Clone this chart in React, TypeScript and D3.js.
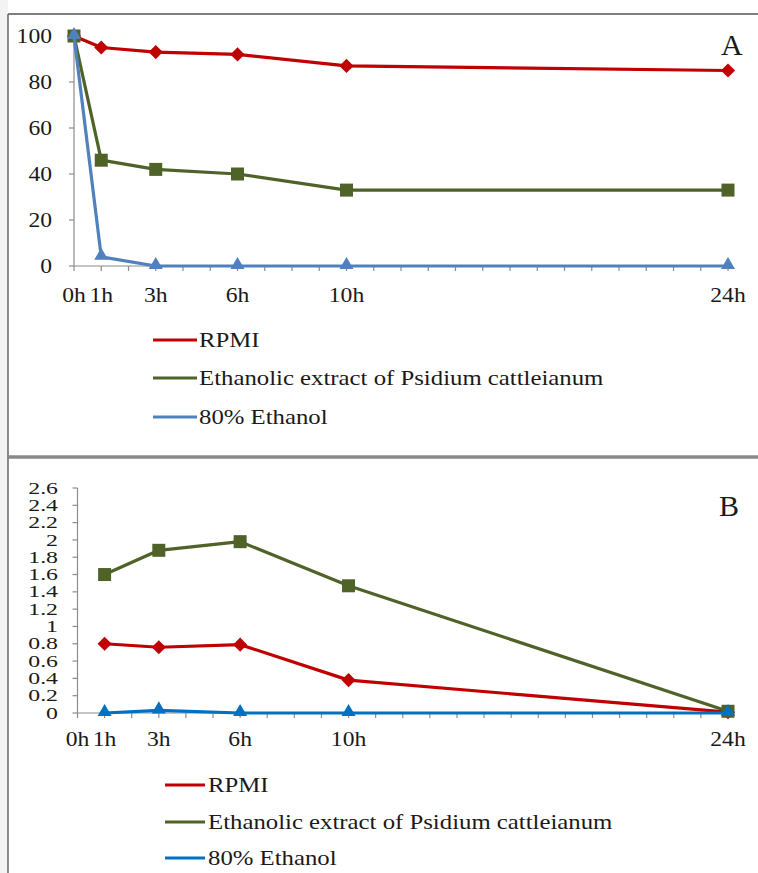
import React from "react";
import * as d3 from "d3";

// time points (hours) and tick labels
const hoursA = [0, 1, 3, 6, 10, 24];
const hoursB = [1, 3, 6, 10, 24];
const xTickHours = [0, 1, 3, 6, 10, 24];

// panel A values (%)
const rpmiA = [100, 95, 93, 92, 87, 85];
const extractA = [100, 46, 42, 40, 33, 33];
const ethanolA = [100, 4, 0, 0, 0, 0];

// panel B values
const rpmiB = [0.8, 0.76, 0.79, 0.38, 0.01];
const extractB = [1.6, 1.88, 1.98, 1.47, 0.02];
const ethanolB = [0, 0.03, 0, 0, 0];

const yTicksA = [0, 20, 40, 60, 80, 100];
const yTicksB = d3.range(0, 14).map((i) => +(i * 0.2).toFixed(1));

const legendNames = ["RPMI", "Ethanolic extract of Psidium cattleianum", "80% Ethanol"];

const RED = "#c00000";
const GREEN = "#4f6228";
const BLUE_A = "#4f81bd";
const BLUE_B = "#0070c0";
const AXIS = "#8c8c8c";
const FONT = "'Liberation Serif', 'Times New Roman', serif";
const SX = 1.18; // the source image is a little stretched sideways

const diamond = d3.symbol(d3.symbolSquare, 100)();
const square = d3.symbol(d3.symbolSquare, 169)();
const triangle = d3.symbol(d3.symbolTriangle, 85)();

function T({ x, y, size, anchor = "start", sx = SX, children }: any) {
  return (
    <text
      transform={`translate(${x},${y}) scale(${sx},1)`}
      textAnchor={anchor}
      fontFamily={FONT}
      fontSize={size}
      fill="#1a1a1a"
    >
      {children}
    </text>
  );
}

function Series({ hours, values, x, y, color, marker }: any) {
  const pts = hours.map((h: number, i: number) => [x(h), y(values[i])] as [number, number]);
  const line = d3.line();
  return (
    <g>
      <path d={line(pts) || ""} fill="none" stroke={color} strokeWidth={3.2} strokeLinejoin="round" />
      {pts.map((p: [number, number], i: number) => (
        <path
          key={i}
          d={marker === "diamond" ? diamond : marker === "square" ? square : triangle}
          transform={`translate(${p[0]},${p[1]})${marker === "diamond" ? " rotate(45)" : marker === "triangle" ? " translate(0,-1)" : ""}`}
          fill={color}
        />
      ))}
    </g>
  );
}

function Panel({ x, y, yTicks, labelRight, tickFont, tickSx, xLabelBase, label, labelPos, children }: any) {
  const [x0, x1] = x.range();
  const [yb, yt] = y.range();
  return (
    <g>
      {/* y axis */}
      <line x1={x0} x2={x0} y1={yb} y2={yt} stroke={AXIS} strokeWidth={1.2} />
      {yTicks.map((v: number) => (
        <g key={v}>
          <line x1={x0 - 5} x2={x0} y1={y(v)} y2={y(v)} stroke={AXIS} strokeWidth={1.2} />
          <T x={labelRight} y={y(v) + tickFont * 0.33} size={tickFont} sx={tickSx} anchor="end">
            {String(v)}
          </T>
        </g>
      ))}
      {/* x axis */}
      <line x1={x0} x2={x1} y1={yb} y2={yb} stroke={AXIS} strokeWidth={1.2} />
      {d3.range(0, 25).map((h) => (
        <line key={h} x1={x(h)} x2={x(h)} y1={yb} y2={yb + 5} stroke={AXIS} strokeWidth={1.2} />
      ))}
      {xTickHours.map((h) => (
        <T key={h} x={x(h)} y={xLabelBase} size={20} anchor="middle">
          {h + "h"}
        </T>
      ))}
      {children}
      <text x={labelPos[0]} y={labelPos[1]} fontFamily={FONT} fontSize={30} fill="#1a1a1a">
        {label}
      </text>
    </g>
  );
}

function Legend({ x, x2, tx, rows, colors }: any) {
  return (
    <g>
      {legendNames.map((name, i) => (
        <g key={name}>
          <line x1={x} x2={x2} y1={rows[i]} y2={rows[i]} stroke={colors[i]} strokeWidth={3} />
          <T x={tx} y={rows[i] + 7} size={21}>
            {name}
          </T>
        </g>
      ))}
    </g>
  );
}

export default function App() {
  const xA = d3.scaleLinear().domain([0, 24]).range([74, 728]);
  const yA = d3.scaleLinear().domain([0, 100]).range([266, 36]);
  const xB = d3.scaleLinear().domain([0, 24]).range([77.5, 728]);
  const yB = d3.scaleLinear().domain([0, 2.6]).range([713, 488]);

  return (
    <svg
      width={758}
      height={873}
      style={{ position: "absolute", left: 0, top: 0, background: "#fff" }}
    >
      <rect x={0} y={0} width={8} height={873} fill="#f3f3f3" />
      <line x1={8} x2={758} y1={14} y2={14} stroke="#555" strokeWidth={1.5} />
      <line x1={8} x2={8} y1={14} y2={873} stroke="#666" strokeWidth={1.5} />
      <line x1={8} x2={758} y1={457} y2={457} stroke="#8a8a8a" strokeWidth={3.5} />

      <Panel x={xA} y={yA} yTicks={yTicksA} labelRight={52} tickFont={20} tickSx={1.18} xLabelBase={302} label="A" labelPos={[721, 55]}>
        <Series hours={hoursA} values={rpmiA} x={xA} y={yA} color={RED} marker="diamond" />
        <Series hours={hoursA} values={extractA} x={xA} y={yA} color={GREEN} marker="square" />
        <Series hours={hoursA} values={ethanolA} x={xA} y={yA} color={BLUE_A} marker="triangle" />
      </Panel>
      <Legend x={153} x2={197} tx={199} rows={[340, 378, 417]} colors={[RED, GREEN, BLUE_A]} />

      <Panel x={xB} y={yB} yTicks={yTicksB} labelRight={58} tickFont={17} tickSx={1.4} xLabelBase={746} label="B" labelPos={[719, 516]}>
        <Series hours={hoursB} values={rpmiB} x={xB} y={yB} color={RED} marker="diamond" />
        <Series hours={hoursB} values={extractB} x={xB} y={yB} color={GREEN} marker="square" />
        <Series hours={hoursB} values={ethanolB} x={xB} y={yB} color={BLUE_B} marker="triangle" />
      </Panel>
      <Legend x={165} x2={205} tx={208} rows={[785, 822, 858]} colors={[RED, GREEN, BLUE_B]} />
    </svg>
  );
}
